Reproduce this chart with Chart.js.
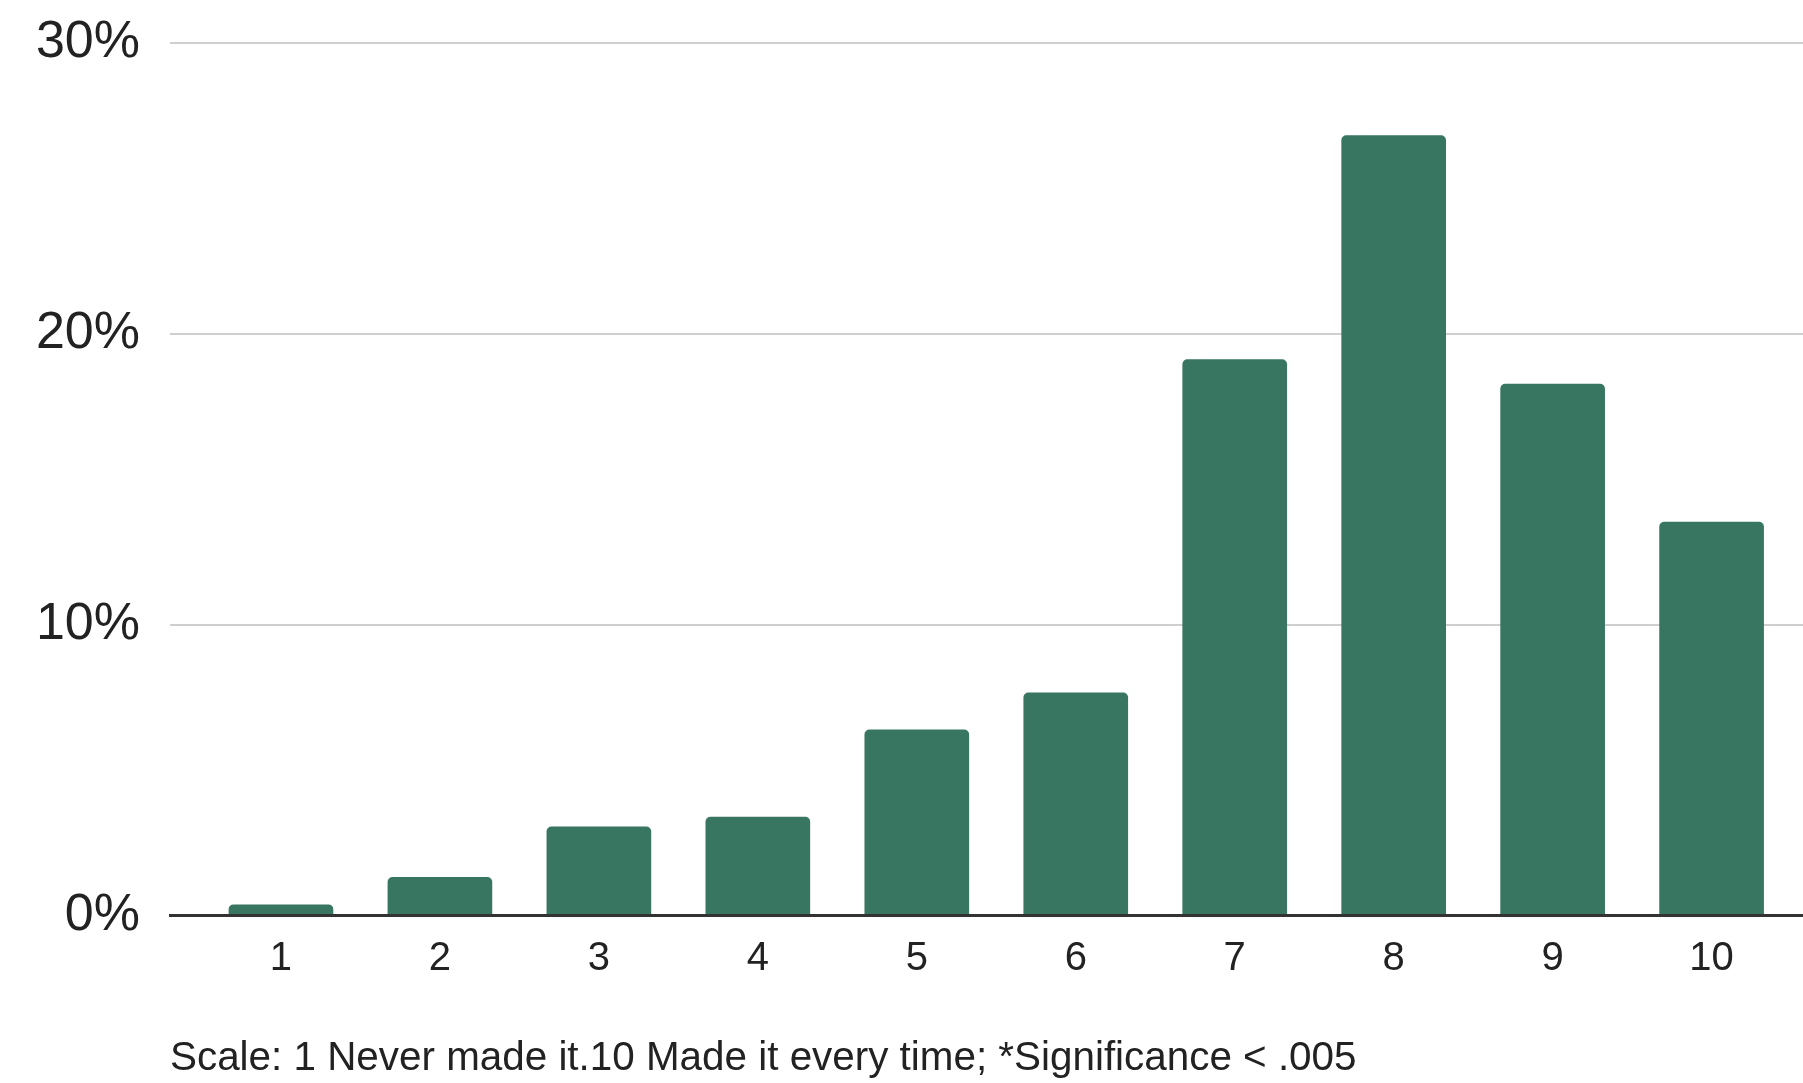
<!DOCTYPE html>
<html>
<head>
<meta charset="utf-8">
<script src="https://cdn.jsdelivr.net/npm/chart.js@4.4.1/dist/chart.umd.min.js"></script>
<style>
  html, body { margin: 0; padding: 0; background: #fff; }
  #wrap { position: relative; width: 1803px; height: 1083px; }
  #note {
    position: absolute; left: 170px; top: 1033px;
    font-family: "Liberation Sans", Arial, sans-serif;
    font-size: 40.4px; color: #222; white-space: nowrap;
  }
</style>
</head>
<body>
<div id="wrap">
  <canvas id="scoreChart" width="1803" height="1083"></canvas>
  <div id="note">Scale: 1 Never made it.10 Made it every time; *Significance &lt; .005</div>
</div>
<script>
// Réponses sur l'échelle 1 à 10 (en % des répondants)
const scores = [1, 2, 3, 4, 5, 6, 7, 8, 9, 10];
const percents = [0.37, 1.31, 3.05, 3.38, 6.38, 7.65, 19.1, 26.8, 18.26, 13.52];
const yTicks = [0, 10, 20, 30];

const points = scores.map((s, i) => ({ x: s, y: percents[i] }));

const ctx = document.getElementById('scoreChart').getContext('2d');
const chart = new Chart(ctx, {
    type: 'bar',
    data: {
        datasets: [{
            data: points,
            backgroundColor: '#397661',
            barThickness: 104,
            borderRadius: { topLeft: 5, topRight: 5 },
            borderSkipped: 'bottom'
        }]
    },
    options: {
        responsive: false,
        animation: false,
        layout: {
            autoPadding: false,
            padding: { top: 42.5, right: 0, bottom: 0, left: 0 }
        },
        plugins: {
            legend: { display: false },
            tooltip: { enabled: false }
        },
        scales: {
            x: {
                type: 'linear',
                offset: false,
                min: 0.302,
                max: 10.575,
                afterBuildTicks: scale => { scale.ticks = scores.map(v => ({ value: v })); },
                afterFit: scale => { scale.height = 167.5; },
                grid: { display: false },
                border: { display: true, color: '#333', width: 3, z: 1 },
                ticks: {
                    padding: 11,
                    color: '#222',
                    font: { family: 'Liberation Sans', size: 40 }
                }
            },
            y: {
                min: 0,
                max: 30,
                afterBuildTicks: scale => { scale.ticks = yTicks.map(v => ({ value: v })); },
                afterFit: scale => {
                    // largeur fixe, sans marge haute/basse pour les libellés
                    scale.width = 170;
                    scale.paddingTop = 0;
                    scale.paddingBottom = 0;
                },
                grid: { color: '#cfcfcf', lineWidth: 2, drawTicks: false },
                border: { display: false },
                ticks: {
                    padding: 30,
                    color: '#222',
                    font: { family: 'Liberation Sans', size: 52 },
                    callback: v => v + '%'
                }
            }
        }
    }
});
</script>
</body>
</html>
